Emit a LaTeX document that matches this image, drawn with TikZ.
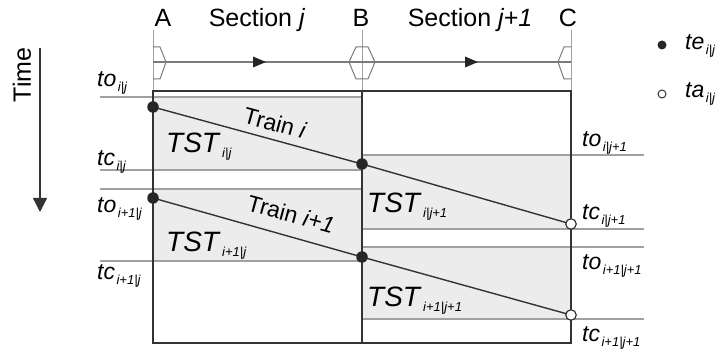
\documentclass[tikz,border=0pt]{standalone}
\usepackage{fontspec}
\setmainfont{Liberation Sans}
\usetikzlibrary{arrows.meta}

% italic symbol with a small italic lowered index
\newcommand{\tsym}[2]{\textit{#1}\hspace{1.5pt}\raisebox{-4.5pt}{\fontsize{13}{13}\selectfont\itshape #2}}

\definecolor{framecol}{HTML}{333333}
\definecolor{thincol}{HTML}{A0A0A0}
\definecolor{trackcol}{HTML}{7A7A7A}
\definecolor{bandcol}{HTML}{ECECEC}

\tikzset{
  frame/.style={draw=framecol, line width=2pt},
  thinline/.style={draw=thincol, line width=1.3pt},
  track/.style={draw=trackcol, line width=1.2pt},
  band/.style={fill=bandcol, draw=none},
  trainline/.style={draw=framecol, line width=1.4pt},
  dotf/.style={circle, fill=black!85, draw=none, minimum size=11.5pt, inner sep=0pt},
  doto/.style={circle, fill=white, draw=framecol, line width=1.2pt, minimum size=10.5pt, inner sep=0pt},
  head/.style={font=\fontsize{25}{25}\selectfont, anchor=base, inner sep=0pt},
  tlabel/.style={font=\fontsize{23}{23}\selectfont, anchor=base west, inner sep=0pt},
  tstlabel/.style={font=\fontsize{28}{28}\selectfont, anchor=base west, inner sep=0pt},
  trainlabel/.style={font=\fontsize{23}{23}\selectfont, inner sep=0pt, rotate=-15.3},
}

\begin{document}
\begin{tikzpicture}[x=1pt, y=-1pt]
\useasboundingbox (0,0) rectangle (720,352);

% occupation bands of section j and section j+1
\fill[band] (153,97) rectangle (362,170);
\fill[band] (153,189) rectangle (362,261);
\fill[band] (362,155) rectangle (571,229);
\fill[band] (362,247) rectangle (571,319);

% time reference lines
\draw[thinline] (100,97) -- (362,97);
\draw[thinline] (100,170) -- (362,170);
\draw[thinline] (100,189) -- (362,189);
\draw[thinline] (100,261) -- (362,261);
\draw[thinline] (362,155) -- (644,155);
\draw[thinline] (362,229) -- (644,229);
\draw[thinline] (362,247) -- (644,247);
\draw[thinline] (362,319) -- (644,319);

% station markers above the frame
\draw[thinline, line width=1pt] (153,30) -- (153,91);
\draw[thinline, line width=1pt] (362,30) -- (362,91);
\draw[thinline, line width=1pt] (571,30) -- (571,91);

% track with running direction
\draw[track] (153,62) -- (571,62);
\fill[black!85] (253,56.5) -- (266,62) -- (253,67.5) -- cycle;
\fill[black!85] (465,56.5) -- (478,62) -- (465,67.5) -- cycle;

% signals
\draw[track, line width=1pt] (153,47) -- (160,47) -- (166,62) -- (160,79) -- (153,79);
\draw[track, line width=1pt] (356,47) -- (368,47) -- (375,62) -- (368,79) -- (356,79) -- (349,62) -- cycle;
\draw[track, line width=1pt] (571,47) -- (564,47) -- (558,62) -- (564,79) -- (571,79);

% frame
\draw[frame] (153,91) rectangle (571,343);
\draw[frame] (362,91) -- (362,343);

% train paths
\coordinate (e1) at (153,107);
\coordinate (e2) at (362,164);
\coordinate (a1) at (571,224);
\coordinate (e3) at (153,198);
\coordinate (e4) at (362,257);
\coordinate (a2) at (571,315);
\draw[trainline] (e1) -- (e2) -- (a1);
\draw[trainline] (e3) -- (e4) -- (a2);
\node[dotf] (de1) at (e1) {};
\node[dotf] (de2) at (e2) {};
\node[dotf] (de3) at (e3) {};
\node[dotf] (de4) at (e4) {};
\node[doto] (da1) at (a1) {};
\node[doto] (da2) at (a2) {};

% headings
\node[head] (hA) at (163,27) {A};
\node[head] (hB) at (361,27) {B};
\node[head] (hC) at (568,27) {C};
\node[head] (hs1) at (257,27) {Section \textit{j}};
\node[head] (hs2) at (470,27) {Section \textit{j+1}};

% time axis
\node[head, rotate=90, anchor=center] (time) at (22,75) {Time};
\coordinate (t0) at (40,48);
\coordinate (t1) at (40,212);
\draw[draw=framecol, line width=1.3pt, -{Triangle[length=14pt,width=14pt]}] (t0) -- (t1);

% time labels, section j
\node[tlabel] (l1) at (97,87) {\tsym{to}{i|j}};
\node[tlabel] (l2) at (97,166) {\tsym{tc}{i|j}};
\node[tlabel] (l3) at (97,213) {\tsym{to}{i+1|j}};
\node[tlabel] (l4) at (97,280) {\tsym{tc}{i+1|j}};

% time labels, section j+1
\node[tlabel] (r1) at (582,147) {\tsym{to}{i|j+1}};
\node[tlabel] (r2) at (582,220) {\tsym{tc}{i|j+1}};
\node[tlabel] (r3) at (582,270) {\tsym{to}{i+1|j+1}};
\node[tlabel] (r4) at (582,342) {\tsym{tc}{i+1|j+1}};

% occupation times
\node[tstlabel] (s1) at (166,153) {\tsym{TST}{i|j}};
\node[tstlabel] (s2) at (166,252) {\tsym{TST}{i+1|j}};
\node[tstlabel] (s3) at (367,213) {\tsym{TST}{i|j+1}};
\node[tstlabel] (s4) at (367,307) {\tsym{TST}{i+1|j+1}};

% train names
\node[trainlabel] (tr1) at (275,123) {Train \textit{i}};
\node[trainlabel] (tr2) at (291,214) {Train \textit{i+1}};

% legend
\node[dotf, minimum size=9pt] (lg1) at (662,45) {};
\node[doto, minimum size=8pt, line width=1pt] (lg2) at (662,94) {};
\node[tlabel] (lt1) at (685,50) {\tsym{te}{i|j}};
\node[tlabel] (lt2) at (685,98) {\tsym{ta}{i|j}};
\end{tikzpicture}
\end{document}
